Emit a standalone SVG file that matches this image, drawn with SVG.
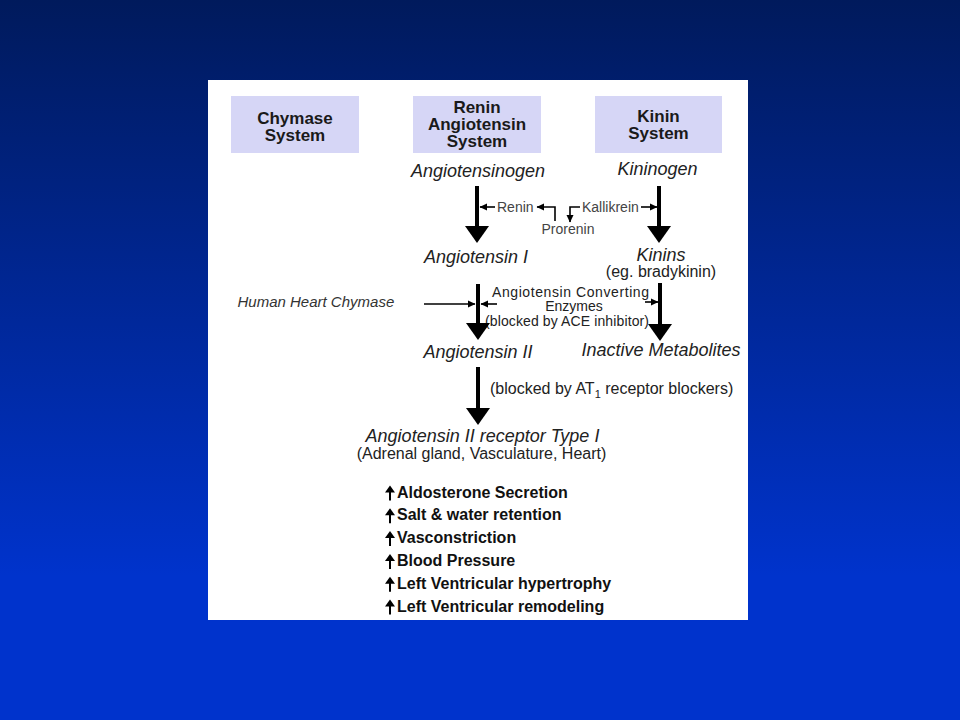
<svg xmlns="http://www.w3.org/2000/svg" width="960" height="720" viewBox="0 0 960 720">
<defs>
<linearGradient id="bg" x1="0" y1="0" x2="0" y2="1">
<stop offset="0" stop-color="#001a5c"/>
<stop offset="0.8" stop-color="#0033cc"/>
<stop offset="1" stop-color="#0033cc"/>
</linearGradient>
<marker id="big" markerUnits="userSpaceOnUse" markerWidth="18" markerHeight="24" viewBox="0 0 18 24" refX="0" refY="12" orient="auto">
<path d="M0,0 L17,12 L0,24 z" fill="#000"/>
</marker>
<marker id="sm" markerUnits="userSpaceOnUse" markerWidth="8" markerHeight="8" viewBox="0 0 8 8" refX="7" refY="4" orient="auto">
<path d="M0,0.5 L7.5,4 L0,7.5 z" fill="#000"/>
</marker>
<style>
.box{fill:#d6d6f6;}
.bt{font-family:"Liberation Sans",Arial,sans-serif;font-weight:bold;font-size:17px;fill:#1a1a1a;text-anchor:middle;}
.it{font-family:"Liberation Sans",Arial,sans-serif;font-style:italic;font-size:18px;fill:#222;}
.rg{font-family:"Liberation Sans",Arial,sans-serif;font-size:16px;fill:#222;}
.ace{font-family:"Liberation Sans",Arial,sans-serif;font-size:14px;fill:#222;}
.sm{font-family:"Liberation Sans",Arial,sans-serif;font-size:14px;fill:#444;}
.li{font-family:"Liberation Sans",Arial,sans-serif;font-weight:bold;font-size:16px;fill:#111;}
.c{text-anchor:middle;}
.thick{stroke:#000;stroke-width:4;fill:none;marker-end:url(#big);}
.thin{stroke:#000;stroke-width:1.6;fill:none;marker-end:url(#sm);}
</style>
</defs>
<rect x="0" y="0" width="960" height="720" fill="url(#bg)"/>
<rect x="208" y="80" width="540" height="540" fill="#ffffff"/>

<g id="chymase-system">
<rect class="box" x="231" y="96" width="128" height="57"/>
<text class="bt" x="295" y="124">Chymase</text>
<text class="bt" x="295" y="141">System</text>
</g>
<g id="renin-angiotensin-system">
<rect class="box" x="413" y="96" width="128" height="57"/>
<text class="bt" x="477" y="113">Renin</text>
<text class="bt" x="477" y="130">Angiotensin</text>
<text class="bt" x="477" y="147">System</text>
</g>
<g id="kinin-system">
<rect class="box" x="595" y="96" width="127" height="57"/>
<text class="bt" x="658.5" y="122">Kinin</text>
<text class="bt" x="658.5" y="139">System</text>
</g>

<g id="angiotensinogen"><text class="it c" x="478" y="177">Angiotensinogen</text></g>
<g id="kininogen"><text class="it c" x="657.5" y="175">Kininogen</text></g>
<g id="renin"><text class="sm" x="497" y="212">Renin</text></g>
<g id="kallikrein"><text class="sm" x="582" y="212">Kallikrein</text></g>
<g id="prorenin"><text class="sm c" x="568" y="234">Prorenin</text></g>
<g id="angiotensin-i"><text class="it c" x="476" y="263">Angiotensin I</text></g>
<g id="kinins">
<text class="it c" x="661" y="261">Kinins</text>
<text class="rg c" x="661" y="277">(eg. bradykinin)</text>
</g>
<g id="human-heart-chymase"><text class="it" x="237.5" y="307" style="font-size:15px;fill:#333">Human Heart Chymase</text></g>
<g id="ace">
<text class="ace" x="492" y="297" textLength="157" lengthAdjust="spacing">Angiotensin Converting</text>
<text class="ace c" x="574" y="311">Enzymes</text>
<text class="ace" x="485" y="326" textLength="164" lengthAdjust="spacing">(blocked by ACE inhibitor)</text>
</g>
<g id="angiotensin-ii"><text class="it c" x="478" y="358">Angiotensin II</text></g>
<g id="inactive-metabolites"><text class="it c" x="661" y="356">Inactive Metabolites</text></g>
<g id="at1-blockers"><text class="rg" x="490" y="394">(blocked by AT<tspan font-size="11" dy="4">1</tspan><tspan dy="-4"> receptor blockers)</tspan></text></g>
<g id="at1-receptor">
<text class="it c" x="482.5" y="442">Angiotensin II receptor Type I</text>
<text class="rg c" x="481.5" y="459">(Adrenal gland, Vasculature, Heart)</text>
</g>

<g id="effects">
<g id="up-arrows" fill="#000" stroke="#000">
<g transform="translate(0,497.5)"><path d="M390,-12 L385,-5 L395,-5 z" stroke="none"/><line x1="390" y1="-6" x2="390" y2="3" stroke-width="2"/></g>
<g transform="translate(0,520.3)"><path d="M390,-12 L385,-5 L395,-5 z" stroke="none"/><line x1="390" y1="-6" x2="390" y2="3" stroke-width="2"/></g>
<g transform="translate(0,543.1)"><path d="M390,-12 L385,-5 L395,-5 z" stroke="none"/><line x1="390" y1="-6" x2="390" y2="3" stroke-width="2"/></g>
<g transform="translate(0,565.9)"><path d="M390,-12 L385,-5 L395,-5 z" stroke="none"/><line x1="390" y1="-6" x2="390" y2="3" stroke-width="2"/></g>
<g transform="translate(0,588.7)"><path d="M390,-12 L385,-5 L395,-5 z" stroke="none"/><line x1="390" y1="-6" x2="390" y2="3" stroke-width="2"/></g>
<g transform="translate(0,611.5)"><path d="M390,-12 L385,-5 L395,-5 z" stroke="none"/><line x1="390" y1="-6" x2="390" y2="3" stroke-width="2"/></g>
</g>
<text class="li" x="397" y="497.5">Aldosterone Secretion</text>
<text class="li" x="397" y="520.3">Salt &amp; water retention</text>
<text class="li" x="397" y="543.1">Vasconstriction</text>
<text class="li" x="397" y="565.9">Blood Pressure</text>
<text class="li" x="397" y="588.7">Left Ventricular hypertrophy</text>
<text class="li" x="397" y="611.5">Left Ventricular remodeling</text>
</g>

<g id="connectors">
<line class="thick" x1="477" y1="186" x2="477" y2="226"/>
<line class="thick" x1="659" y1="186" x2="659" y2="226"/>
<line class="thick" x1="478" y1="284" x2="478" y2="323"/>
<line class="thick" x1="660" y1="283" x2="660" y2="324"/>
<line class="thick" x1="478" y1="367" x2="478" y2="408"/>
<line class="thin" x1="495" y1="207" x2="480" y2="207"/>
<path class="thin" d="M555,221 V207 H537"/>
<path class="thin" d="M580,207 H570 V222"/>
<line class="thin" x1="641" y1="207" x2="657" y2="207"/>
<line class="thin" x1="424" y1="304" x2="475" y2="304"/>
<line class="thin" x1="497" y1="304" x2="481" y2="304"/>
<line class="thin" x1="645" y1="302" x2="658" y2="302"/>
</g>
</svg>
